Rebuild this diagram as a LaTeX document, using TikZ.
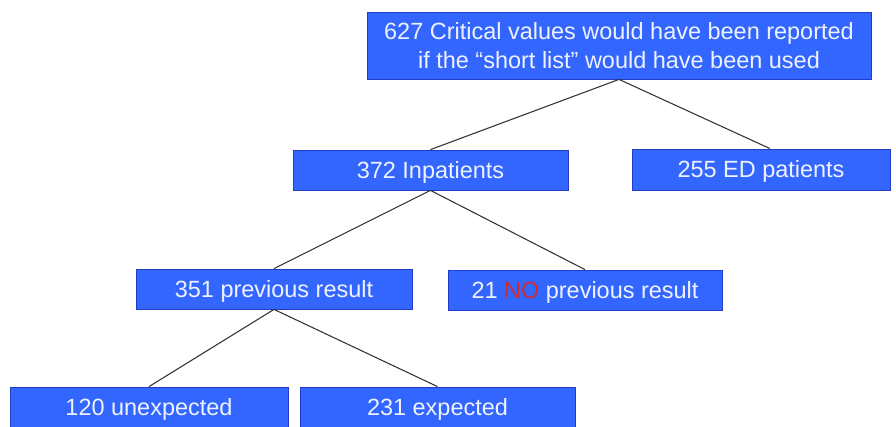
\documentclass[tikz,border=0pt]{standalone}
\usepackage{fontspec}
\setmainfont{Liberation Sans}
\definecolor{boxblue}{RGB}{51,102,255}
\definecolor{boxedge}{RGB}{35,60,200}
\definecolor{nored}{RGB}{205,45,50}
\definecolor{boxtext}{RGB}{238,242,255}
\begin{document}
\begin{tikzpicture}[x=0.75pt,y=-0.75pt,
  box/.style={draw=boxedge, fill=boxblue, line width=0.6pt, inner sep=0pt,
    text=boxtext, font=\fontsize{17.6}{21.75}\selectfont, align=center,
    minimum height=30pt, text depth=0pt},
  link/.style={draw=black!80, line width=0.8pt}]
\clip (0,0) rectangle (896,427);
\node[box, minimum width=378pt, minimum height=50.25pt] (top) at (619,45.5)
  {627 Critical values would have been reported\\if the “short list” would have been used};
\node[box, minimum width=206.25pt] (inp) at (430.5,170) {372 Inpatients};
\node[box, minimum width=193.5pt, minimum height=30.75pt] (ed) at (761,169.5) {255 ED patients};
\node[box, minimum width=207pt] (prev) at (274,289) {351 previous result};
\node[box, minimum width=205.5pt] (noprev) at (585,290) {21 \textcolor{nored}{NO} previous result};
\node[box, minimum width=208.5pt] (unexp) at (149,407) {120 unexpected};
\node[box, minimum width=206.25pt] (exp) at (437.5,407) {231 expected};
\draw[link] (top.south) -- (inp.north);
\draw[link] (top.south) -- ([xshift=6.75pt]ed.north);
\draw[link] (inp.south) -- (prev.north);
\draw[link] (inp.south) -- (noprev.north);
\draw[link] (prev.south) -- (unexp.north);
\draw[link] (prev.south) -- (exp.north);
\end{tikzpicture}
\end{document}
